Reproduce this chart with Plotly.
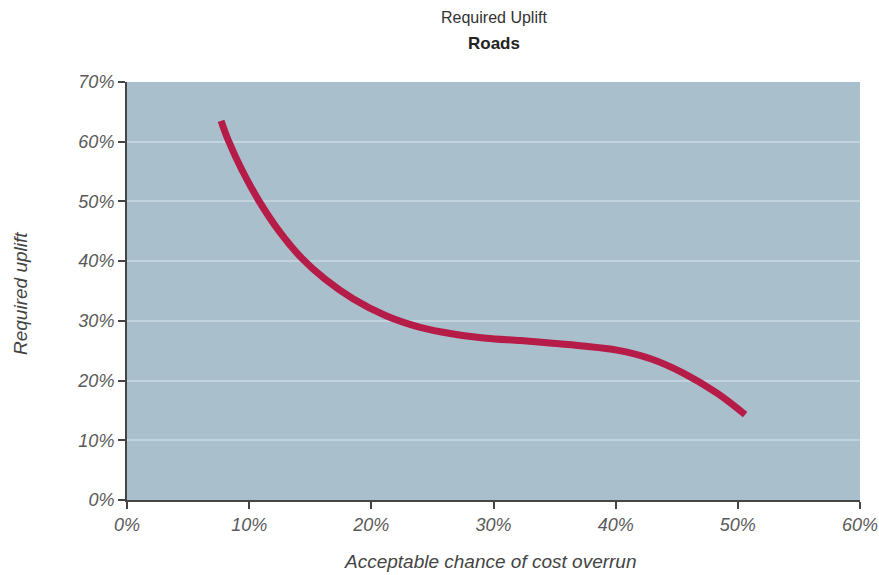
import plotly.graph_objects as go

# Required uplift vs acceptable chance of cost overrun (roads)
overrun_chance = [7.7, 8.3, 9.4, 10.8, 12.5, 14.3, 16.2, 18.5, 21.25, 24.0,
                  26.7, 29.4, 32.2, 34.6, 37.3, 40.1, 42.8, 45.5, 48.3, 50.6]
required_uplift = [63.5, 60.2, 55.3, 50.1, 44.9, 40.5, 37.0, 33.7, 30.8, 28.9,
                   27.8, 27.1, 26.7, 26.3, 25.8, 25.1, 23.7, 21.3, 17.9, 14.3]

x_ticks = [0, 10, 20, 30, 40, 50, 60]
y_ticks = [0, 10, 20, 30, 40, 50, 60, 70]

font_family = "Liberation Sans, Arial, sans-serif"
label_color = "#5a5a5a"
axis_color = "#454545"

# plot area in pixels: top 82, bottom 500, left 127, width 733
PLOT_TOP, PLOT_BOTTOM, PLOT_LEFT, PLOT_W = 82, 500, 127, 733
PLOT_H = PLOT_BOTTOM - PLOT_TOP


def py(pixel_y):
    return (PLOT_BOTTOM - pixel_y) / PLOT_H


def px(pixel_x):
    return (pixel_x - PLOT_LEFT) / PLOT_W


fig = go.Figure()
fig.add_trace(go.Scatter(
    x=overrun_chance,
    y=required_uplift,
    mode="lines",
    line=dict(color="#b51c48", width=7, shape="spline", smoothing=1.0),
    hoverinfo="skip",
    showlegend=False,
))

tick_font = dict(family=font_family, size=18, color=label_color, style="italic")

fig.update_layout(
    width=879,
    height=575,
    margin=dict(l=127, r=19, t=82, b=75),
    paper_bgcolor="white",
    plot_bgcolor="#aabfcc",
    xaxis=dict(
        range=[0, 60],
        tickvals=x_ticks,
        ticktext=[f"{v}%" for v in x_ticks],
        showgrid=False,
        zeroline=False,
        showline=True, linecolor=axis_color, linewidth=2,
        ticks="outside", ticklen=7, tickwidth=2, tickcolor=axis_color,
        tickfont=tick_font,
        automargin=False,
    ),
    yaxis=dict(
        range=[0, 70],
        tickvals=y_ticks,
        ticktext=[f"{v}%" for v in y_ticks],
        showgrid=True, gridcolor="#c3d3de", gridwidth=2,
        zeroline=False,
        showline=True, linecolor=axis_color, linewidth=2,
        ticks="outside", ticklen=7, tickwidth=2, tickcolor=axis_color,
        tickfont=tick_font,
        automargin=False,
    ),
)

# Title lines
fig.add_annotation(text="Required Uplift", xref="paper", yref="paper",
                   x=0.5, y=py(17), xanchor="center", yanchor="middle",
                   showarrow=False,
                   font=dict(family=font_family, size=16, color="#333333"))
fig.add_annotation(text="<b>Roads</b>", xref="paper", yref="paper",
                   x=0.5, y=py(43), xanchor="center", yanchor="middle",
                   showarrow=False,
                   font=dict(family=font_family, size=17, color="#222222"))

# Axis titles
fig.add_annotation(text="<i>Acceptable chance of cost overrun</i>", xref="paper", yref="paper",
                   x=px(490), y=py(561), xanchor="center", yanchor="middle",
                   showarrow=False,
                   font=dict(family=font_family, size=19, color="#444444"))
fig.add_annotation(text="<i>Required uplift</i>", xref="paper", yref="paper",
                   x=px(20), y=py(294), xanchor="center", yanchor="middle",
                   textangle=-90, showarrow=False,
                   font=dict(family=font_family, size=19, color="#444444"))

fig.write_html("out.html")
